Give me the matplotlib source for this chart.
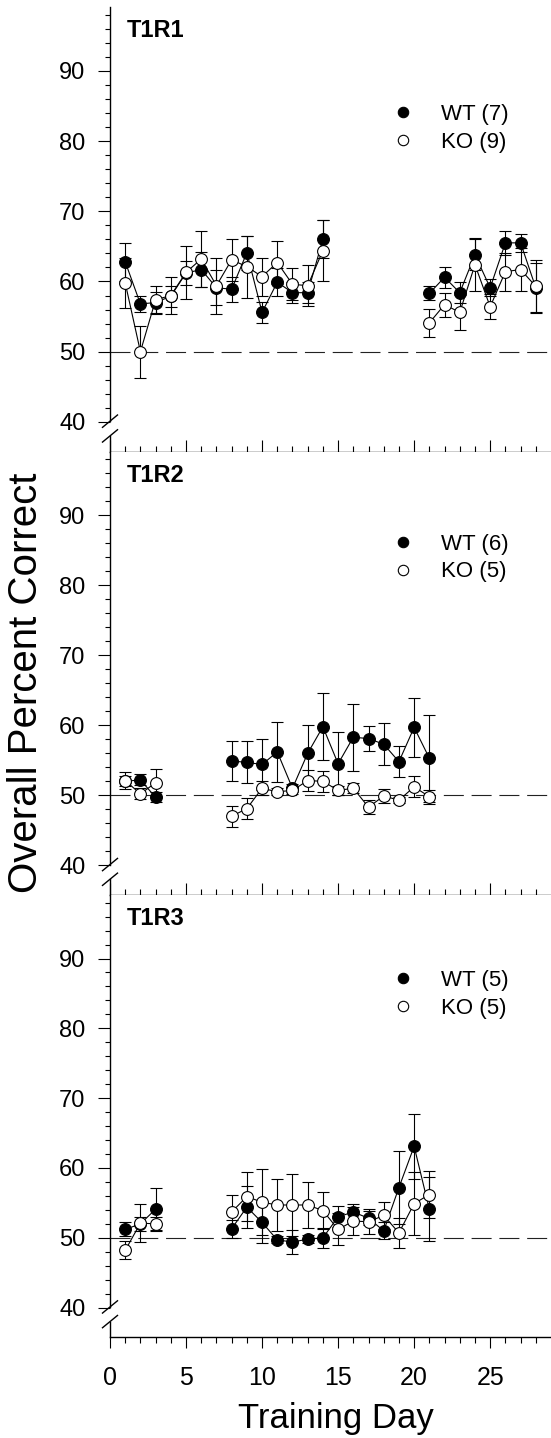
import matplotlib
matplotlib.use('Agg')
import matplotlib.pyplot as plt
import numpy as np

plt.rcParams['font.family'] = ['Liberation Sans', 'DejaVu Sans']

# T1R1
days1 = [1, 2, 3, 4, 5, 6, 7, 8, 9, 10, 11, 12, 13, 14, 21, 22, 23, 24, 25, 26, 27, 28]
wt1 = [62.8, 56.8, 57.0, 57.9, 61.2, 61.7, 59.1, 58.9, 64.1, 55.6, 59.9, 58.4, 58.4, 66.0,
       58.3, 60.6, 58.4, 63.8, 59.1, 65.5, 65.5, 59.1]
wt1_err = [2.7, 1.1, 1.5, 1.5, 1.7, 2.5, 2.5, 1.8, 2.4, 1.5, 2.0, 1.5, 1.5, 2.7,
           1.0, 1.5, 1.5, 2.2, 1.2, 1.7, 1.3, 3.5]
ko1 = [59.8, 50.0, 57.4, 58.0, 61.3, 63.2, 59.4, 63.1, 62.1, 60.7, 62.7, 59.6, 59.4, 64.4,
       54.1, 56.7, 55.6, 62.4, 56.4, 61.4, 61.7, 59.3]
ko1_err = [3.6, 3.7, 2.0, 2.6, 3.8, 4.0, 4.0, 3.0, 4.4, 2.7, 3.0, 2.3, 2.9, 4.4,
           2.0, 1.7, 2.5, 3.8, 1.8, 2.7, 3.1, 3.8]

# T1R2
days2 = [1, 2, 3, 8, 9, 10, 11, 12, 13, 14, 15, 16, 17, 18, 19, 20, 21]
wt2 = [52.0, 52.2, 49.7, 54.9, 54.7, 54.4, 56.2, 51.0, 56.0, 59.8, 54.5, 58.3, 58.1, 57.3, 54.8, 59.7, 55.3]
wt2_err = [0.7, 0.8, 0.7, 2.8, 3.0, 3.6, 4.3, 0.6, 4.0, 4.8, 4.5, 4.8, 1.8, 3.0, 2.2, 4.2, 6.2]
ko2 = [52.1, 50.2, 51.8, 47.0, 48.1, 51.0, 50.5, 50.7, 52.1, 52.0, 50.7, 51.0, 48.3, 49.9, 49.3, 51.2, 49.8]
ko2_err = [1.2, 0.8, 2.0, 1.5, 1.5, 1.0, 0.5, 0.5, 1.5, 1.5, 0.6, 0.7, 1.0, 1.0, 0.4, 1.5, 1.0]

# T1R3
days3 = [1, 2, 3, 8, 9, 10, 11, 12, 13, 14, 15, 16, 17, 18, 19, 20, 21]
wt3 = [51.2, 52.0, 54.1, 51.3, 54.4, 52.2, 49.7, 49.4, 49.8, 50.0, 53.0, 53.7, 52.8, 51.0, 57.2, 63.1, 54.1]
wt3_err = [1.0, 1.0, 3.0, 1.3, 3.0, 3.0, 0.5, 1.7, 0.6, 1.4, 1.5, 1.2, 1.0, 1.2, 5.2, 4.7, 4.6]
ko3 = [48.2, 52.1, 52.0, 53.7, 55.9, 55.1, 54.7, 54.7, 54.7, 53.9, 51.2, 52.4, 52.3, 53.2, 50.7, 54.9, 56.2]
ko3_err = [1.3, 2.7, 1.0, 2.5, 3.5, 4.7, 3.7, 4.5, 3.3, 2.7, 2.3, 2.0, 1.8, 2.0, 2.1, 4.5, 3.3]

panels = [
    ('T1R1', days1, wt1, wt1_err, ko1, ko1_err, 'WT (7)', 'KO (9)'),
    ('T1R2', days2, wt2, wt2_err, ko2, ko2_err, 'WT (6)', 'KO (5)'),
    ('T1R3', days3, wt3, wt3_err, ko3, ko3_err, 'WT (5)', 'KO (5)'),
]

W, H = 551, 1438
fig = plt.figure(figsize=(W / 100, H / 100), dpi=100)

# axes boxes in pixels (top, bottom)
boxes = [(7, 451.7), (451.7, 895), (895, 1337.3)]
legend_y = [0.727, 0.76, 0.775]
ymin, ymax = 35.75, 99.1


def groups(x):
    # split days into runs of consecutive days
    out, cur = [], [0]
    for i in range(1, len(x)):
        if x[i] - x[i - 1] > 1:
            out.append(cur)
            cur = []
        cur.append(i)
    out.append(cur)
    return out


for k, (name, d, wt, wte, ko, koe, lwt, lko) in enumerate(panels):
    top, bot = boxes[k]
    ax = fig.add_axes([110 / W, 1 - bot / H, 441 / W, (bot - top) / H])
    ax.set_xlim(0, 29.0)
    ax.set_ylim(ymin, ymax)

    ax.axhline(50, color='#222222', lw=0.8, dashes=(18, 7), zorder=1)

    d = np.array(d)
    for series, err, fc in [(wt, wte, 'black'), (ko, koe, 'white')]:
        series = np.array(series)
        err = np.array(err)
        ax.errorbar(d, series, yerr=err, fmt='none', ecolor='black',
                    elinewidth=0.8, capsize=4.5, capthick=0.8, zorder=2)
        for g in groups(d):
            ax.plot(d[g], series[g], color='black', lw=0.8, zorder=3)
        ax.plot(d, series, 'o', ms=8.5, mfc=fc, mec='black', mew=0.8,
                ls='none', zorder=4)

    # legend handles
    h1, = ax.plot([], [], 'o', ms=7.5, mfc='black', mec='black', mew=0.8, ls='none')
    h2, = ax.plot([], [], 'o', ms=7.5, mfc='white', mec='black', mew=0.8, ls='none')
    ax.legend([h1, h2], [lwt, lko], loc='center left',
              bbox_to_anchor=(0.639, legend_y[k]), frameon=False,
              fontsize=16, handlelength=1.0, handletextpad=1.2,
              borderpad=0, borderaxespad=0, labelspacing=0.3)

    ax.text(0.037, 1 - 12 / (bot - top), name, transform=ax.transAxes,
            fontsize=17, fontweight='bold', va='top', ha='left')

    # spines
    for s in ['top', 'right']:
        ax.spines[s].set_visible(False)
    ax.spines['left'].set_linewidth(1.0)
    ax.spines['bottom'].set_linewidth(1.0)
    ax.spines['left'].set_bounds(40.1, ymax)
    ax.plot([0, 0], [ymin, 38.0], color='black', lw=1.0,
            transform=ax.get_yaxis_transform(), clip_on=False)
    for yc in [40.1, 38.0]:
        ax.plot([-0.017, 0.017], [yc - 0.88, yc + 0.88], color='black', lw=1.0,
                transform=ax.get_yaxis_transform(), clip_on=False)

    ax.set_yticks([40, 50, 60, 70, 80, 90])
    ax.set_yticks(np.arange(42, 99, 2), minor=True)
    ax.tick_params(axis='y', which='major', direction='out', length=8.6,
                   width=0.8, labelsize=17, pad=9)
    ax.tick_params(axis='y', which='minor', direction='out', length=3.8, width=0.8)

    ax.set_xticks([0, 5, 10, 15, 20, 25])
    ax.set_xticks(np.arange(0, 29, 1), minor=True)
    if k < 2:
        ax.tick_params(axis='x', which='major', direction='in', length=8.6,
                       width=0.8, labelbottom=False)
        ax.tick_params(axis='x', which='minor', direction='in', length=4.3, width=0.8)
    else:
        ax.tick_params(axis='x', which='major', direction='out', length=8.0,
                       width=0.8, labelsize=18, pad=13)
        ax.tick_params(axis='x', which='minor', direction='out', length=4.3, width=0.8)

fig.text(26 / W, 1 - 683 / H, 'Overall Percent Correct', rotation=90,
         ha='center', va='center', fontsize=29)
fig.text(336 / W, 1 - 1428 / H, 'Training Day', ha='center', va='baseline',
         fontsize=25)

fig.savefig('out.png', dpi=100)
